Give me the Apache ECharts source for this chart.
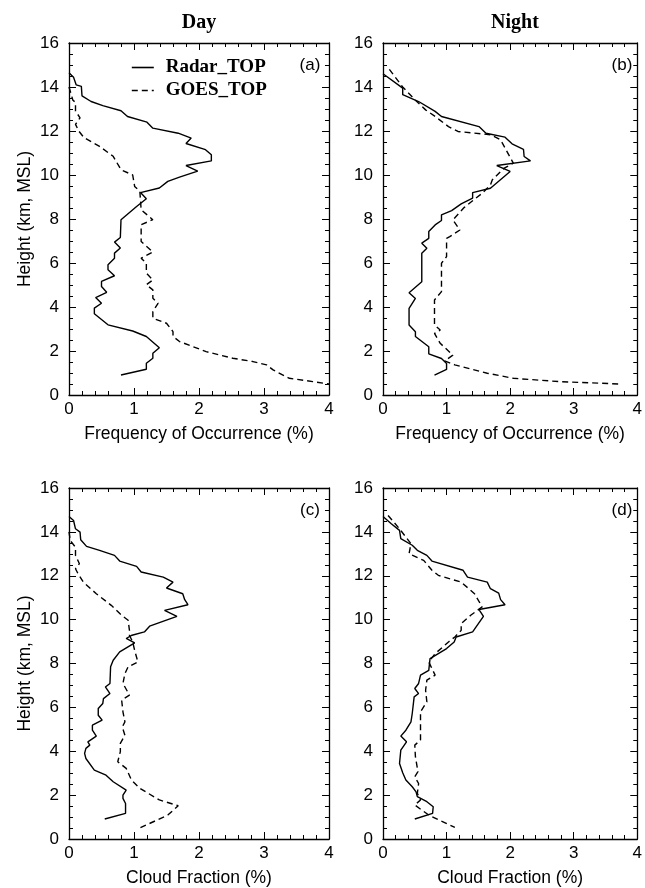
<!DOCTYPE html>
<html>
<head>
<meta charset="utf-8">
<script src="https://cdn.jsdelivr.net/npm/echarts@6/dist/echarts.min.js"></script>
<style>
body{margin:0;background:#fff;}
#chart{width:645px;height:888px;}
</style>
</head>
<body>
<div id="chart"></div>
<script>
// [value, height km]
var radarFreqDay=[[0,14.65],[0.07,14.44],[0.11,14.1],[0.19,14.03],[0.2,13.6],[0.34,13.34],[0.52,13.15],[0.8,12.92],[0.9,12.66],[1.2,12.4],[1.29,12.13],[1.68,11.9],[1.88,11.68],[1.8,11.43],[2.1,11.15],[2.19,10.92],[2.19,10.64],[1.8,10.43],[1.98,10.18],[1.7,9.9],[1.52,9.71],[1.39,9.41],[1.1,9.2],[1.19,8.92],[1.04,8.57],[0.8,7.97],[0.79,7.16],[0.7,6.95],[0.79,6.68],[0.7,6.45],[0.7,6.22],[0.6,5.92],[0.6,5.69],[0.7,5.42],[0.5,5.16],[0.5,4.93],[0.58,4.67],[0.41,4.43],[0.5,4.17],[0.39,3.95],[0.39,3.69],[0.6,3.19],[0.98,2.91],[1.19,2.66],[1.39,2.15],[1.29,1.9],[1.29,1.67],[1.19,1.44],[1.19,1.17],[0.8,0.91]];
var goesFreqDay=[[0,14.0],[0.06,13.4],[0.1,13.3],[0.1,12.9],[0.17,12.6],[0.1,12.3],[0.15,12.0],[0.23,11.7],[0.47,11.3],[0.68,10.85],[0.8,10.24],[0.98,10.0],[1.01,9.48],[1.09,9.26],[1.11,8.42],[1.29,7.97],[1.11,7.74],[1.11,6.98],[1.29,6.5],[1.11,6.22],[1.19,5.99],[1.19,5.54],[1.29,5.23],[1.19,5.01],[1.29,4.78],[1.29,4.4],[1.37,4.17],[1.29,3.79],[1.29,3.49],[1.5,3.26],[1.6,2.88],[1.6,2.66],[1.7,2.43],[2.11,1.97],[2.52,1.67],[2.83,1.52],[3.04,1.37],[3.14,1.14],[3.39,0.76],[3.75,0.61],[4.0,0.5]];
var radarFreqNight=[[0,14.6],[0.31,13.95],[0.31,13.65],[0.56,13.34],[0.82,12.89],[0.92,12.66],[1.51,12.2],[1.62,11.9],[1.92,11.72],[2.03,11.42],[2.21,11.17],[2.22,10.84],[2.32,10.64],[1.79,10.43],[2.0,10.16],[1.69,9.4],[1.41,9.2],[1.41,8.95],[1.23,8.69],[1.08,8.38],[0.92,8.19],[0.92,7.93],[0.82,7.73],[0.72,7.43],[0.72,7.12],[0.61,6.9],[0.69,6.67],[0.61,6.44],[0.61,5.15],[0.41,4.65],[0.51,4.39],[0.41,3.94],[0.41,3.18],[0.51,2.88],[0.51,2.66],[0.72,2.19],[0.72,1.87],[0.92,1.66],[1.0,1.43],[1.0,1.16],[0.81,0.9]];
var goesFreqNight=[[0.1,14.8],[0.31,14.0],[0.51,13.4],[0.67,12.96],[0.82,12.66],[1.03,12.2],[1.18,11.98],[1.69,11.83],[1.85,11.6],[2.05,10.54],[1.9,10.3],[1.72,9.78],[1.69,9.55],[1.56,9.17],[1.44,8.9],[1.28,8.53],[1.1,7.96],[1.21,7.5],[1.05,7.2],[1.0,7.12],[1.0,6.29],[0.92,5.99],[0.92,4.7],[0.81,4.32],[0.81,3.18],[0.9,2.95],[0.81,2.8],[0.9,2.35],[1.1,1.81],[0.97,1.55],[1.13,1.37],[1.64,0.99],[2.05,0.76],[2.77,0.61],[3.72,0.5]];
var radarCfDay=[[0,14.7],[0.07,14.52],[0.1,14.14],[0.17,13.99],[0.18,13.64],[0.27,13.34],[0.47,13.16],[0.7,12.93],[0.78,12.67],[1.04,12.43],[1.11,12.17],[1.45,11.94],[1.6,11.71],[1.5,11.44],[1.75,11.18],[1.78,10.91],[1.83,10.68],[1.47,10.42],[1.66,10.15],[1.24,9.7],[1.16,9.44],[0.97,9.29],[0.88,9.14],[1.01,8.94],[0.78,8.53],[0.68,8.15],[0.64,7.85],[0.63,7.09],[0.56,6.93],[0.63,6.63],[0.53,6.4],[0.52,6.18],[0.45,5.95],[0.45,5.64],[0.51,5.42],[0.36,5.19],[0.36,4.96],[0.42,4.69],[0.29,4.43],[0.32,4.28],[0.26,4.13],[0.24,3.9],[0.26,3.67],[0.39,3.14],[0.57,2.91],[0.68,2.61],[0.88,2.23],[0.83,2.0],[0.83,1.85],[0.87,1.62],[0.87,1.17],[0.55,0.91]];
var goesCfDay=[[0,14.0],[0.02,13.6],[0.1,13.3],[0.1,12.93],[0.16,12.55],[0.1,12.32],[0.14,12.09],[0.22,11.71],[0.42,11.18],[0.65,10.65],[0.81,10.2],[0.91,9.97],[0.93,9.51],[0.93,9.29],[0.98,8.98],[1.01,8.6],[1.06,8.07],[0.91,7.85],[0.86,7.54],[0.83,7.09],[0.93,6.56],[0.81,6.33],[0.83,5.8],[0.86,5.34],[0.82,5.11],[0.86,4.73],[0.79,4.36],[0.79,3.98],[0.75,3.52],[0.88,3.22],[0.96,2.69],[1.09,2.31],[1.39,1.78],[1.68,1.52],[1.52,1.09],[1.08,0.49]];
var radarCfNight=[[0,14.7],[0.13,14.37],[0.26,14.07],[0.28,13.69],[0.46,13.39],[0.54,13.16],[0.69,12.93],[0.77,12.67],[1.26,12.25],[1.33,11.94],[1.64,11.71],[1.69,11.41],[1.82,11.21],[1.85,10.91],[1.92,10.68],[1.51,10.46],[1.58,10.15],[1.41,9.44],[1.15,9.21],[1.12,8.98],[1.0,8.68],[0.74,8.22],[0.72,7.69],[0.59,7.47],[0.56,7.09],[0.5,6.86],[0.56,6.63],[0.49,6.48],[0.46,5.72],[0.44,5.34],[0.36,4.96],[0.28,4.69],[0.37,4.43],[0.28,4.05],[0.26,3.44],[0.31,3.02],[0.36,2.69],[0.46,2.38],[0.52,2.15],[0.54,1.93],[0.69,1.7],[0.79,1.47],[0.78,1.17],[0.5,0.91]];
var goesCfNight=[[0.08,14.75],[0.26,14.14],[0.44,13.46],[0.41,13.0],[0.64,12.7],[0.77,12.25],[0.87,12.02],[1.23,11.71],[1.44,11.18],[1.56,10.58],[1.38,10.2],[1.23,9.82],[1.23,9.51],[1.13,9.21],[1.03,8.98],[0.82,8.45],[0.72,8.07],[0.82,7.47],[0.69,7.24],[0.67,6.78],[0.69,6.25],[0.59,5.8],[0.59,4.51],[0.5,4.28],[0.51,3.75],[0.55,3.07],[0.5,2.84],[0.56,2.53],[0.54,2.08],[0.59,1.78],[0.5,1.55],[0.72,1.09],[1.13,0.53]];

var xNames=['Frequency of Occurrence (%)','Frequency of Occurrence (%)','Cloud Fraction (%)','Cloud Fraction (%)'];
var yName='Height (km, MSL)';
var panelTags=['(a)','(b)','(c)','(d)'];
var colTitles=['Day','Night'];

var sans='Liberation Sans';
var serif='Liberation Serif';
var grids=[
	{left:69,top:43,width:260,height:352},
	{left:383,top:43,width:260,height:352},
	{left:69,top:488,width:260,height:351},
	{left:383,top:488,width:260,height:351}
];
var axisLineData={show:true,onZero:false,lineStyle:{color:'#000',width:1.3}};
var tickData={show:true,inside:true,length:7,lineStyle:{color:'#000',width:1}};
var minorData=function(n){return {show:true,splitNumber:n,length:4,lineStyle:{color:'#000',width:1}};};

var xAxes=[],yAxes=[],series=[];
for(var i=0;i<4;i++){
	xAxes.push({
		gridIndex:i,type:'value',min:0,max:4,interval:1,position:'bottom',
		name:xNames[i],nameLocation:'middle',nameGap:30,
		nameTextStyle:{fontFamily:sans,fontSize:17.5,color:'#000'},
		axisLine:axisLineData,axisTick:tickData,minorTick:minorData(5),
		axisLabel:{fontFamily:sans,fontSize:17,color:'#000',margin:6},
		splitLine:{show:false}
	});
	xAxes.push({
		gridIndex:i,type:'value',min:0,max:4,interval:1,position:'top',
		axisLine:axisLineData,axisTick:tickData,minorTick:minorData(5),
		axisLabel:{show:false},splitLine:{show:false}
	});
	yAxes.push({
		gridIndex:i,type:'value',min:0,max:16,interval:2,position:'left',
		name:(i%2==0)?yName:'',nameLocation:'middle',nameGap:35,nameRotate:90,
		nameTextStyle:{fontFamily:sans,fontSize:17.5,color:'#000'},
		axisLine:axisLineData,axisTick:tickData,minorTick:minorData(4),
		axisLabel:{fontFamily:sans,fontSize:17,color:'#000',margin:10},
		splitLine:{show:false}
	});
	yAxes.push({
		gridIndex:i,type:'value',min:0,max:16,interval:2,position:'right',
		axisLine:axisLineData,axisTick:tickData,minorTick:minorData(4),
		axisLabel:{show:false},splitLine:{show:false}
	});
}

var radarSets=[radarFreqDay,radarFreqNight,radarCfDay,radarCfNight];
var goesSets=[goesFreqDay,goesFreqNight,goesCfDay,goesCfNight];
for(var i=0;i<4;i++){
	series.push({
		name:'Radar_TOP',type:'line',xAxisIndex:i*2,yAxisIndex:i*2,
		symbol:'none',animation:false,color:'#000',
		lineStyle:{color:'#000',width:1.4,type:'solid'},
		data:radarSets[i]
	});
	series.push({
		name:'GOES_TOP',type:'line',xAxisIndex:i*2,yAxisIndex:i*2,
		symbol:'none',animation:false,color:'#000',
		lineStyle:{color:'#000',width:1.4,type:[6,4]},
		data:goesSets[i]
	});
}

var titles=[
	{text:colTitles[0],left:194,top:8,textAlign:'center',textStyle:{fontFamily:serif,fontWeight:'bold',fontSize:20,color:'#000'}},
	{text:colTitles[1],left:510,top:8,textAlign:'center',textStyle:{fontFamily:serif,fontWeight:'bold',fontSize:20,color:'#000'}}
];
var tagPos=[[305,52],[617,52],[305,497],[617,497]];
for(var i=0;i<4;i++){
	titles.push({text:panelTags[i],left:tagPos[i][0],top:tagPos[i][1],textAlign:'center',
		textStyle:{fontFamily:sans,fontWeight:'normal',fontSize:17,color:'#000'}});
}

var chart=echarts.init(document.getElementById('chart'));
chart.setOption({
	backgroundColor:'#fff',
	animation:false,
	title:titles,
	grid:grids,
	xAxis:xAxes,
	yAxis:yAxes,
	legend:{
		data:['Radar_TOP','GOES_TOP'],
		orient:'vertical',left:126,top:53,
		itemWidth:22,itemHeight:14,itemGap:4,
		itemStyle:{opacity:0},
		lineStyle:{color:'#000',width:1.6},
		textStyle:{fontFamily:serif,fontWeight:'bold',fontSize:19,color:'#000',padding:[0,0,0,7]}
	},
	series:series
});
</script>
</body>
</html>
